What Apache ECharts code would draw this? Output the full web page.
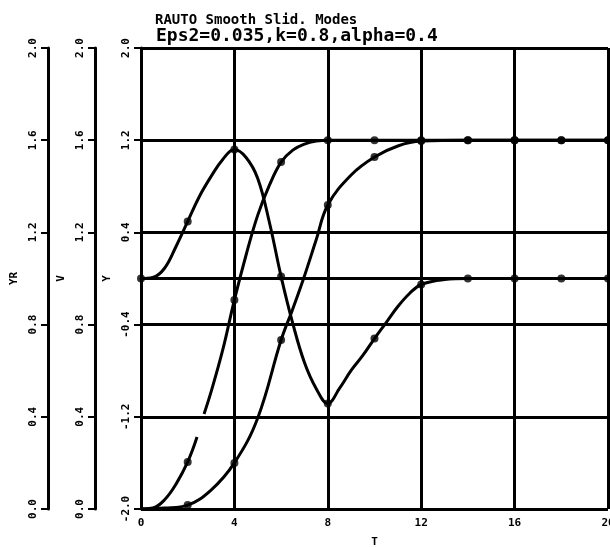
<!DOCTYPE html>
<html>
<head>
<meta charset="utf-8">
<script src="https://cdn.jsdelivr.net/npm/echarts@6/dist/echarts.min.js"></script>
<style>
html, body { margin: 0; padding: 0; background: #fff; }
#main { width: 610px; height: 547px; }
</style>
</head>
<body>
<div id="main"></div>
<script>
// tick labels of the axes
var xTicks = [0, 4, 8, 12, 16, 20];
var yTicks = [-2.0, -1.2, -0.4, 0.4, 1.2, 2.0];
var vTicks = [0, 0.4, 0.8, 1.2, 1.6, 2.0];
var yrTicks = [0, 0.4, 0.8, 1.2, 1.6, 2.0];

// Y : the oscillating curve
var tY = [0, 0.5, 1, 1.5, 2, 2.5, 3, 3.5, 4, 4.5, 5, 5.5, 6, 6.5, 7, 7.5, 8, 8.5, 9, 9.5, 10, 10.5, 11, 11.5, 12, 13, 14, 16, 18, 20];
var vY = [0, 0.009, 0.087, 0.278, 0.495, 0.712, 0.885, 1.033, 1.119, 1.050, 0.868, 0.486, 0.017, -0.390, -0.729, -0.954, -1.085, -0.954, -0.798, -0.668, -0.521, -0.382, -0.243, -0.130, -0.052, -0.009, 0, 0, 0, 0];

// YR : leading S curve (null = pen lifted)
var tYR = [0, 0.5, 1, 1.5, 2, 2.4, 2.55, 2.7, 3, 3.5, 4, 4.5, 5, 5.5, 6, 6.5, 7, 7.5, 8, 10, 12, 14, 16, 18, 20];
var vYR = [0, 0.004, 0.039, 0.108, 0.204, 0.312, null, 0.412, 0.508, 0.690, 0.907, 1.102, 1.275, 1.405, 1.505, 1.557, 1.583, 1.596, 1.6, 1.6, 1.6, 1.6, 1.6, 1.6, 1.6];

// V : lagging S curve
var tV = [0, 1, 2, 3, 4, 5, 6, 6.5, 7, 7.5, 8, 9, 10, 11, 12, 14, 16, 18, 20];
var vV = [0, 0.004, 0.017, 0.082, 0.200, 0.395, 0.733, 0.868, 1.011, 1.167, 1.319, 1.449, 1.527, 1.575, 1.596, 1.6, 1.6, 1.6, 1.6];

// where the plotter put a point mark
var markY = [0, 2, 4, 6, 8, 10, 12, 14, 16, 18, 20];
var markYR = [2, 4, 6, 8, 10, 12, 14, 16, 18, 20];
var markV = [2, 4, 6, 8, 10, 12, 14, 16, 18, 20];

function pairs(t, v) {
    var out = [];
    for (var i = 0; i < t.length; i++) {
        out.push([t[i], v[i] == null ? '-' : v[i]]);
    }
    return out;
}
function marks(t, v, keep) {
    var out = [];
    for (var i = 0; i < t.length; i++) {
        if (keep.indexOf(t[i]) >= 0 && v[i] != null) out.push([t[i], v[i]]);
    }
    return out;
}

var black = '#000';
var lblFont = { color: black, fontFamily: 'DejaVu Sans Mono', fontWeight: 'bold', fontSize: 11 };

function yAx(name, min, max, ticks, offset, split, gap) {
    return {
        type: 'value',
        name: name,
        nameLocation: 'middle',
        nameGap: gap,
        nameRotate: 90,
        nameTextStyle: lblFont,
        min: min,
        max: max,
        position: 'left',
        offset: offset,
        axisLine: { show: true, lineStyle: { color: black, width: 3 } },
        axisTick: { show: true, length: 7, customValues: ticks, lineStyle: { color: black, width: 2 } },
        axisLabel: {
            customValues: ticks, rotate: 90, margin: 9,
            color: black, fontFamily: 'DejaVu Sans Mono', fontWeight: 'bold', fontSize: 11,
            formatter: function (v) { return Number(v).toFixed(1); }
        },
        splitLine: { show: split, lineStyle: { color: black, width: 3 } }
    };
}

var oChart = echarts.init(document.getElementById('main'), null, { renderer: 'canvas' });

var lineStyle = { color: black, width: 3 };
var opt = {
    backgroundColor: '#fff',
    animation: false,
    graphic: [
        { type: 'text', left: 155, top: 13, style: { text: 'RAUTO Smooth Slid. Modes', font: 'bold 14px "DejaVu Sans Mono"', fill: black } },
        { type: 'text', left: 156, top: 27, style: { text: 'Eps2=0.035,k=0.8,alpha=0.4', font: 'bold 18px "DejaVu Sans Mono"', fill: black } }
    ],
    grid: { left: 141, right: 2, top: 48, bottom: 38, containLabel: false, outerBoundsMode: 'none' },
    xAxis: {
        type: 'value',
        min: 0,
        max: 20,
        interval: 4,
        name: 'T',
        nameLocation: 'middle',
        nameGap: 28,
        nameTextStyle: lblFont,
        axisLine: { lineStyle: { color: black, width: 3 } },
        axisTick: { length: 4, lineStyle: { color: black, width: 2 } },
        axisLabel: { color: black, fontFamily: 'DejaVu Sans Mono', fontWeight: 'bold', fontSize: 11, margin: 9 },
        splitLine: { show: true, lineStyle: { color: black, width: 3 } }
    },
    yAxis: [
        yAx('Y', -2, 2, yTicks, 0, false, 26),
        yAx('V', 0, 2, vTicks, 46, false, 28),
        yAx('YR', 0, 2, yrTicks, 93, true, 26)
    ],
    series: [
        { name: 'Y', type: 'line', yAxisIndex: 0, smooth: 0.4, symbol: 'none', lineStyle: lineStyle, data: pairs(tY, vY) },
        { name: 'V', type: 'line', yAxisIndex: 1, smooth: 0.4, symbol: 'none', lineStyle: lineStyle, data: pairs(tV, vV) },
        { name: 'YR', type: 'line', yAxisIndex: 2, smooth: 0.4, symbol: 'none', connectNulls: false, lineStyle: lineStyle, data: pairs(tYR, vYR) },
        { type: 'scatter', yAxisIndex: 0, symbol: 'circle', symbolSize: 8, itemStyle: { color: black }, data: marks(tY, vY, markY) },
        { type: 'scatter', yAxisIndex: 1, symbol: 'circle', symbolSize: 8, itemStyle: { color: black }, data: marks(tV, vV, markV) },
        { type: 'scatter', yAxisIndex: 2, symbol: 'circle', symbolSize: 8, itemStyle: { color: black }, data: marks(tYR, vYR, markYR) }
    ]
};
oChart.setOption(opt);
</script>
</body>
</html>
